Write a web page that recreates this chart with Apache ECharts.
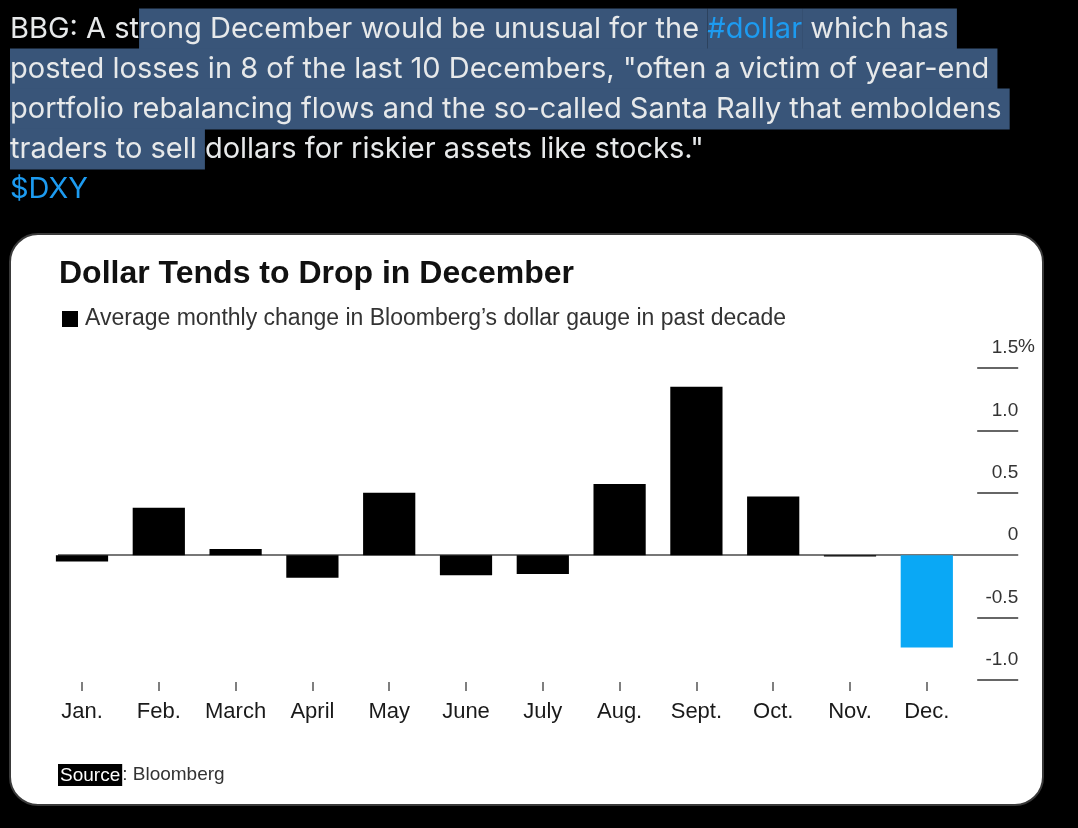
<!DOCTYPE html>
<html><head><meta charset="utf-8">
<script src="https://cdn.jsdelivr.net/npm/echarts@6/dist/echarts.min.js"></script>
<style>html,body{margin:0;padding:0;background:#000}#c{width:1078px;height:828px}</style>
</head><body><div id="c"></div>
<script>
// ---- data ----
const months = ['Jan.', 'Feb.', 'March', 'April', 'May', 'June', 'July', 'Aug.', 'Sept.', 'Oct.', 'Nov.', 'Dec.'];
const avgChange = [-0.05, 0.38, 0.05, -0.18, 0.50, -0.16, -0.15, 0.57, 1.35, 0.47, -0.01, -0.74];
const highlightMonth = 'Dec.';
const yTickValues = [-1.0, -0.5, 0, 0.5, 1.0, 1.5];
const yTickLabels = ['-1.0', '-0.5', '0', '0.5', '1.0', '1.5'];
const chartTitle = 'Dollar Tends to Drop in December';
const chartSubtitle = 'Average monthly change in Bloomberg\u2019s dollar gauge in past decade';
const sourceLabel = 'Source';
const sourceName = ': Bloomberg';
// tweet text: segments [text, style] where style: n normal, h highlighted, hk highlighted link, k link
const tweetLines = [
  [['BBG: A st', 'n'], ['rong December would be unusual for the ', 'h'], ['#dollar', 'hk'], [' which has ', 'h']],
  [['posted losses in 8 of the last 10 Decembers, "often a victim of year-end ', 'h']],
  [['portfolio rebalancing flows and the so-called Santa Rally that emboldens ', 'h']],
  [['traders to sell ', 'h'], ['dollars for riskier assets like stocks."', 'n']],
  [['$DXY', 'k']]
];

// ---- styles ----
const TW_FONT = 'Inter';
const TW_SIZE = 29;
const TW_LH = 40;
const HL_BG = '#395579';
const TW_WHITE = '#e7e9ea';
const LINK = '#1d9bf0';
const BAR_BLACK = '#000000';
const BAR_BLUE = '#0aa8f5';
const CHART_FONT = '"Liberation Sans", Arial, sans-serif';

const tweetRich = {
  n: { fill: TW_WHITE, fontSize: TW_SIZE, fontFamily: TW_FONT, lineHeight: TW_LH },
  h: { fill: TW_WHITE, fontSize: TW_SIZE, fontFamily: TW_FONT, lineHeight: TW_LH, backgroundColor: HL_BG, padding: [6, 0, 6, 0] },
  hk: { fill: LINK, fontSize: TW_SIZE, fontFamily: TW_FONT, lineHeight: TW_LH, backgroundColor: HL_BG, padding: [6, 0, 6, 0] },
  k: { fill: LINK, fontSize: TW_SIZE, fontFamily: TW_FONT, lineHeight: TW_LH }
};

const graphics = [];
tweetLines.forEach((segs, i) => {
  graphics.push({
    type: 'text', silent: true,
    x: 10, y: 9 + i * TW_LH,
    style: {
      text: segs.map(s => '{' + s[1] + '|' + s[0] + '}').join(''),
      rich: tweetRich,
      fontSize: TW_SIZE, fontFamily: TW_FONT,
      verticalAlign: 'top', align: 'left'
    }
  });
});

// card
graphics.push({
  type: 'rect', silent: true, z: -10,
  shape: { x: 10, y: 234, width: 1033, height: 571, r: 28 },
  style: { fill: '#ffffff', stroke: '#3a3a3a', lineWidth: 2 }
});
// title
graphics.push({
  type: 'text', silent: true, x: 59, y: 258,
  style: { text: chartTitle, fill: '#111', font: 'bold 32px ' + CHART_FONT, verticalAlign: 'top' }
});
// subtitle square + text
graphics.push({
  type: 'rect', silent: true,
  shape: { x: 62, y: 311, width: 16, height: 16 },
  style: { fill: '#000' }
});
graphics.push({
  type: 'text', silent: true, x: 85, y: 319,
  style: { text: chartSubtitle, fill: '#333', font: '23px ' + CHART_FONT, verticalAlign: 'middle' }
});
// percent sign on top tick
graphics.push({
  type: 'text', silent: true, x: 1018, y: 347,
  style: { text: '%', fill: '#333', font: '19px ' + CHART_FONT, verticalAlign: 'middle' }
});
// source
graphics.push({
  type: 'text', silent: true, x: 58, y: 775,
  style: {
    text: '{s|' + sourceLabel + '}{b|' + sourceName + '}',
    verticalAlign: 'middle',
    rich: {
      s: { fill: '#fff', backgroundColor: '#000', fontSize: 19, fontFamily: CHART_FONT, padding: [2, 2, 1, 2], lineHeight: 22 },
      b: { fill: '#333', fontSize: 19, fontFamily: CHART_FONT, lineHeight: 22 }
    }
  }
});

const chart = echarts.init(document.getElementById('c'), null, { renderer: 'canvas' });
chart.setOption({
  backgroundColor: '#000',
  animation: false,
  graphic: graphics,
  grid: { left: 43.6, right: 112.8, top: 368, bottom: 148, containLabel: false },
  xAxis: {
    type: 'category',
    data: months,
    offset: 2,
    axisLine: { show: false, onZero: false },
    axisTick: { show: true, alignWithLabel: true, length: 9, lineStyle: { color: '#555', width: 1.5 } },
    axisLabel: { color: '#1a1a1a', fontSize: 22, fontFamily: CHART_FONT, margin: 19, interval: 0 },
    splitLine: { show: false }
  },
  yAxis: {
    type: 'value',
    position: 'right',
    min: -1.0, max: 1.5, interval: 0.5,
    offset: 12,
    axisLine: { show: false },
    axisTick: { show: true, inside: false, length: 41, lineStyle: { color: '#666', width: 2 } },
    axisLabel: {
      color: '#333', fontSize: 19, fontFamily: CHART_FONT,
      align: 'right', margin: 41, verticalAlign: 'bottom', lineHeight: 20, padding: [0, 0, 10, 0],
      formatter: v => {
        const i = yTickValues.findIndex(t => Math.abs(t - v) < 1e-9);
        return i >= 0 ? yTickLabels[i] : '';
      }
    },
    splitLine: { show: false }
  },
  series: [{
    type: 'bar',
    data: avgChange,
    barWidth: '68%',
    itemStyle: { color: p => (p.name === highlightMonth ? BAR_BLUE : BAR_BLACK) },
    markLine: {
      silent: true, symbol: 'none', z: 1,
      label: { show: false },
      lineStyle: { color: '#777', width: 2, type: 'solid' },
      data: [[{ yAxis: 0, x: 58 }, { yAxis: 0, x: 1018 }]]
    }
  }]
});
</script>
</body></html>
